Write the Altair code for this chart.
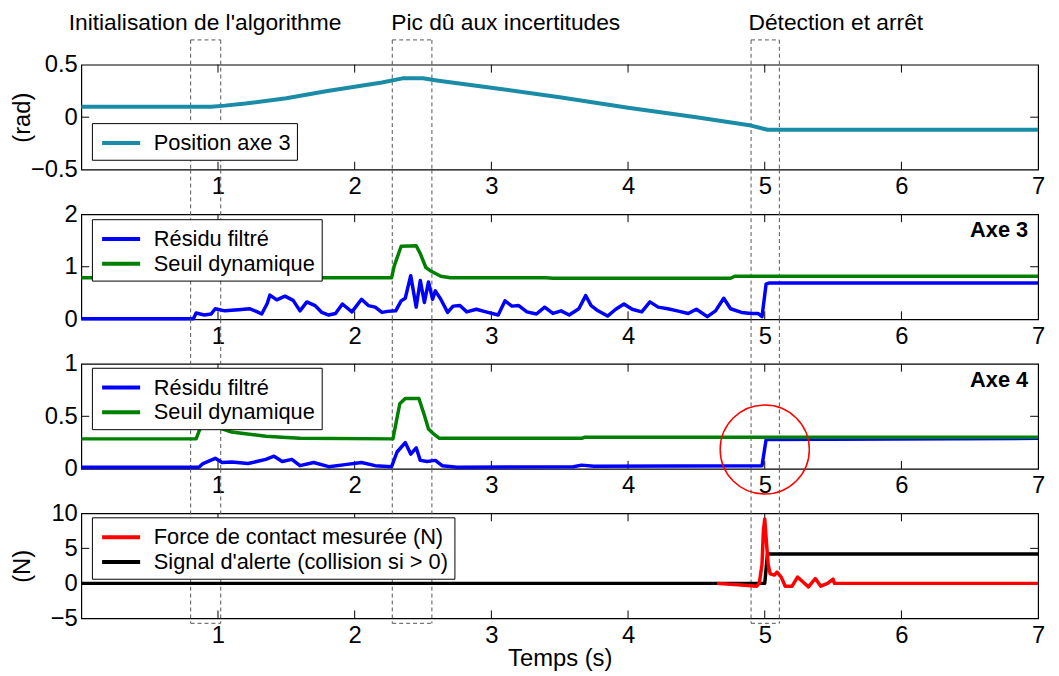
import altair as alt
import pandas as pd

FONT = "Liberation Sans"
W, H = 966, 106

# ---------------- data ----------------
X_TICK_LABELS = [1, 2, 3, 4, 5, 6, 7]
X_TICKS_INNER = [1, 2, 3, 4, 5, 6]

POSITION = [(0.0, 0.10), (0.95, 0.10), (1.05, 0.11), (1.2, 0.13), (1.5, 0.18), (1.8, 0.25),
            (2.0, 0.29), (2.2, 0.33), (2.35, 0.37), (2.5, 0.37), (2.6, 0.35), (3.0, 0.28),
            (3.5, 0.19), (4.0, 0.09), (4.5, 0.00), (4.9, -0.08), (5.02, -0.12), (7.0, -0.12)]

AX3_RESIDU = [(0.0, 0.01), (0.82, 0.01), (0.84, 0.12), (0.87, 0.10), (0.90, 0.08), (0.95, 0.10),
              (0.98, 0.20), (1.05, 0.16), (1.15, 0.18), (1.23, 0.20), (1.28, 0.15), (1.32, 0.10),
              (1.36, 0.30), (1.38, 0.46), (1.43, 0.37), (1.49, 0.44), (1.55, 0.36), (1.60, 0.16),
              (1.65, 0.33), (1.71, 0.26), (1.76, 0.13), (1.81, 0.08), (1.86, 0.11), (1.91, 0.29),
              (1.98, 0.14), (2.05, 0.38), (2.10, 0.26), (2.15, 0.23), (2.20, 0.13), (2.24, 0.15),
              (2.30, 0.16), (2.34, 0.35), (2.37, 0.40), (2.41, 0.83), (2.45, 0.23), (2.48, 0.74),
              (2.51, 0.32), (2.54, 0.71), (2.57, 0.38), (2.59, 0.54), (2.63, 0.38), (2.68, 0.13),
              (2.72, 0.25), (2.77, 0.26), (2.82, 0.14), (2.89, 0.19), (2.96, 0.14), (3.05, 0.08),
              (3.10, 0.35), (3.15, 0.25), (3.20, 0.26), (3.26, 0.14), (3.33, 0.10), (3.39, 0.23),
              (3.45, 0.11), (3.51, 0.16), (3.57, 0.08), (3.64, 0.20), (3.69, 0.45), (3.73, 0.26),
              (3.78, 0.16), (3.85, 0.06), (3.91, 0.19), (3.97, 0.29), (4.03, 0.19), (4.10, 0.14),
              (4.16, 0.33), (4.22, 0.23), (4.29, 0.20), (4.36, 0.16), (4.44, 0.11), (4.50, 0.19),
              (4.58, 0.05), (4.64, 0.16), (4.70, 0.40), (4.75, 0.20), (4.83, 0.13), (4.90, 0.11),
              (4.95, 0.11), (4.98, 0.05), (5.01, 0.67), (5.03, 0.69), (7.0, 0.69)]

AX3_SEUIL = [(0.0, 0.79), (2.27, 0.79), (2.29, 1.02), (2.34, 1.39), (2.45, 1.40), (2.48, 1.25),
             (2.52, 0.99), (2.55, 0.93), (2.63, 0.82), (2.70, 0.79), (3.40, 0.79), (3.45, 0.78),
             (4.75, 0.78), (4.78, 0.82), (7.0, 0.82)]

AX4_RESIDU = [(0.0, 0.015), (0.86, 0.015), (0.89, 0.05), (0.98, 0.10), (1.03, 0.06), (1.10, 0.065),
              (1.22, 0.05), (1.35, 0.09), (1.41, 0.12), (1.47, 0.07), (1.54, 0.09), (1.60, 0.03),
              (1.70, 0.06), (1.81, 0.02), (1.93, 0.04), (2.05, 0.06), (2.15, 0.03), (2.27, 0.02),
              (2.31, 0.16), (2.37, 0.25), (2.41, 0.14), (2.45, 0.20), (2.48, 0.08), (2.53, 0.07),
              (2.59, 0.08), (2.64, 0.03), (2.75, 0.015), (3.60, 0.02), (3.66, 0.035), (3.75, 0.025),
              (4.98, 0.03), (5.01, 0.28), (7.0, 0.29)]

AX4_SEUIL = [(0.0, 0.285), (0.84, 0.285), (0.88, 0.42), (0.93, 0.50), (0.97, 0.43), (1.03, 0.38),
             (1.10, 0.35), (1.23, 0.33), (1.35, 0.31), (1.47, 0.30), (1.60, 0.29), (2.28, 0.285),
             (2.33, 0.62), (2.37, 0.67), (2.47, 0.67), (2.51, 0.51), (2.54, 0.38), (2.58, 0.33),
             (2.62, 0.29), (3.66, 0.29), (3.68, 0.30), (7.0, 0.30)]

FORCE = [(4.65, 0.0), (4.88, -0.3), (4.94, -0.4), (4.96, 0.0), (4.98, 2.7), (4.99, 7.5), (5.0, 9.2),
         (5.01, 6.5), (5.025, 2.7), (5.04, 1.35), (5.07, 1.2), (5.09, 1.6), (5.12, 0.9), (5.15, -0.4),
         (5.20, -0.4), (5.24, 0.9), (5.28, 0.2), (5.32, -0.5), (5.37, 0.7), (5.41, -0.4), (5.46, 0.0),
         (5.50, 0.6), (5.51, 0.0), (7.0, 0.0)]

ALERTE = [(0.0, 0.0), (5.0, 0.0), (5.02, 4.2), (7.0, 4.2)]

BOX_X0 = [0.80, 2.275, 4.90]
BOX_X1 = [1.02, 2.565, 5.107]
ANNOT_TEXT = ["Initialisation de l'algorithme", "Pic dû aux incertitudes", "Détection et arrêt"]
ANNOT_X = [0.905, 3.105, 5.52]

CIRCLE_T = [5.0]
CIRCLE_V = [0.184]

TEAL, BLUE, GREEN, RED, BLACK = "#1a8ca7", "#0000ff", "#008000", "#ff0000", "#000000"


def series_df(points, name):
    return pd.DataFrame({"t": [p[0] for p in points], "v": [p[1] for p in points], "series": name})


box_df = pd.DataFrame({"x0": BOX_X0, "x1": BOX_X1})
edge_df = pd.DataFrame({"xe": BOX_X0 + BOX_X1})
xt_df = pd.DataFrame({"t": X_TICKS_INNER})


def x_axis(title=None):
    kw = dict(values=X_TICK_LABELS, ticks=False, domain=False, grid=False, labelFontSize=24,
              labelFont=FONT, labelPadding=5, labelFlush=False, labelOverlap=False,
              format="~r", labelColor="black")
    if title:
        kw.update(title=title, titleFontSize=24, titleFont=FONT, titleFontWeight="normal",
                  titlePadding=0, titleColor="black")
    else:
        kw.update(title=None)
    return alt.Axis(**kw)


def y_axis(values, title=None):
    kw = dict(values=values, ticks=False, domain=False, grid=False, labelFontSize=24,
              labelFont=FONT, labelPadding=4, labelFlush=False, labelOverlap=False,
              labelSeparation=0, format="~r", labelColor="black")
    if title:
        kw.update(title=title, titleFontSize=24, titleFont=FONT, titleFontWeight="normal",
                  titleX=-59, titleY=H / 2, titleAngle=270, titleBaseline="middle",
                  titleAlign="center", titleColor="black")
    else:
        kw.update(title=None)
    return alt.Axis(**kw)


def panel(series, names, colors, ydom, yvals, yinner, legend_y, ytitle=None, xtitle=None,
          top=False, bottom=False, tag=None, circle=False):
    xs = alt.Scale(domain=[0, 7], nice=False, zero=False)
    ys = alt.Scale(domain=ydom, nice=False, zero=False)
    xenc = alt.X("t:Q", scale=xs, axis=x_axis(xtitle))
    yenc = alt.Y("v:Q", scale=ys, axis=y_axis(yvals, ytitle))
    color = alt.Color("series:N", scale=alt.Scale(domain=names, range=colors),
                      legend=alt.Legend(orient="none", legendX=10.7, legendY=legend_y, title=None,
                                        symbolType="M-1.6,0H1.6", symbolSize=576,
                                        symbolStrokeWidth=4, symbolOffset=9.5,
                                        labelFontSize=22, labelFont=FONT, labelColor="black",
                                        strokeColor="black", fillColor="white", padding=6,
                                        rowPadding=-1, labelOffset=19, cornerRadius=0,
                                        labelLimit=0))
    layers = []
    # dashed annotation boxes
    ytop = -25 if top else -45
    ybot = H + 5 if bottom else H
    layers.append(alt.Chart(edge_df).mark_rule(color="#555555", strokeWidth=1, strokeDash=[4, 3]).encode(
        x=alt.X("xe:Q", scale=xs, axis=x_axis(xtitle)), y=alt.value(ytop), y2=alt.value(ybot)))
    if top:
        layers.append(alt.Chart(box_df).mark_rule(color="#555555", strokeWidth=1, strokeDash=[4, 3]).encode(
            x=alt.X("x0:Q", scale=xs, axis=x_axis(xtitle)), x2="x1:Q", y=alt.value(ytop)))
        ann_df = pd.DataFrame({"x": ANNOT_X, "label": ANNOT_TEXT})
        layers.append(alt.Chart(ann_df).mark_text(fontSize=23, font=FONT, baseline="middle",
                                                  align="center", color="black").encode(
            x=alt.X("x:Q", scale=xs, axis=x_axis(xtitle)), y=alt.value(-42), text="label:N"))
    if bottom:
        layers.append(alt.Chart(box_df).mark_rule(color="#555555", strokeWidth=1, strokeDash=[4, 3]).encode(
            x=alt.X("x0:Q", scale=xs, axis=x_axis(xtitle)), x2="x1:Q", y=alt.value(ybot)))
    # inner ticks
    layers.append(alt.Chart(xt_df).mark_rule(color="black", strokeWidth=1).encode(
        x=xenc, y=alt.value(0), y2=alt.value(8)))
    layers.append(alt.Chart(xt_df).mark_rule(color="black", strokeWidth=1).encode(
        x=xenc, y=alt.value(H - 8), y2=alt.value(H)))
    yt_df = pd.DataFrame({"v": yinner})
    layers.append(alt.Chart(yt_df).mark_rule(color="black", strokeWidth=1).encode(
        y=yenc, x=alt.value(0), x2=alt.value(8)))
    layers.append(alt.Chart(yt_df).mark_rule(color="black", strokeWidth=1).encode(
        y=yenc, x=alt.value(W - 8), x2=alt.value(W)))
    # data lines
    for pts, name, sw in series:
        df = series_df(pts, name)
        layers.append(alt.Chart(df).mark_line(strokeWidth=sw, strokeJoin="round").encode(
            x=xenc, y=yenc, color=color, order="t:Q"))
    if tag:
        layers.append(alt.Chart(pd.DataFrame({"tag": [tag]})).mark_text(
            fontSize=22, font=FONT, fontWeight="bold", align="right", baseline="middle",
            color="black").encode(x=alt.value(W - 10), y=alt.value(16), text="tag:N"))
    if circle:
        cdf = pd.DataFrame({"t": CIRCLE_T, "v": CIRCLE_V})
        layers.append(alt.Chart(cdf).mark_point(shape="circle", size=8100, filled=False, color="red",
                                                strokeWidth=1.5, opacity=1).encode(x=xenc, y=yenc))
    return alt.layer(*layers).properties(
        width=W, height=H, view=alt.ViewBackground(stroke="black", strokeWidth=1.2))


p1 = panel([(POSITION, "Position axe 3", 4)], ["Position axe 3"], [TEAL],
           [-0.5, 0.5], [-0.5, 0, 0.5], [0], 59, ytitle="(rad)", top=True)
p2 = panel([(AX3_RESIDU, "Résidu filtré", 3.5), (AX3_SEUIL, "Seuil dynamique", 3.5)],
           ["Résidu filtré", "Seuil dynamique"], [BLUE, GREEN],
           [0, 2], [0, 1, 2], [1], 5, tag="Axe 3")
p3 = panel([(AX4_RESIDU, "Résidu filtré", 3.5), (AX4_SEUIL, "Seuil dynamique", 3.5)],
           ["Résidu filtré", "Seuil dynamique"], [BLUE, GREEN],
           [0, 1], [0, 0.5, 1], [0.5], 4, tag="Axe 4", circle=True)
p4 = panel([(ALERTE, "Signal d'alerte (collision si > 0)", 3.5),
            (FORCE, "Force de contact mesurée (N)", 3.5)],
           ["Force de contact mesurée (N)", "Signal d'alerte (collision si > 0)"], [RED, BLACK],
           [-5, 10], [-5, 0, 5, 10], [0, 5], 4, ytitle="(N)", xtitle="Temps (s)", bottom=True)

chart = alt.vconcat(p1, p2, p3, p4, spacing=45, bounds="flush").resolve_scale(
    x="independent", y="independent", color="independent"
).properties(
    padding={"left": 2, "top": 0, "right": 5, "bottom": 5}
).configure(
    font=FONT, background="white"
).configure_axis(
    labelOverlap=False, labelSeparation=0
).configure_view(
    stroke="black", strokeWidth=1.2
)

chart.save("out.html", embed_options={"renderer": "svg", "actions": False})
